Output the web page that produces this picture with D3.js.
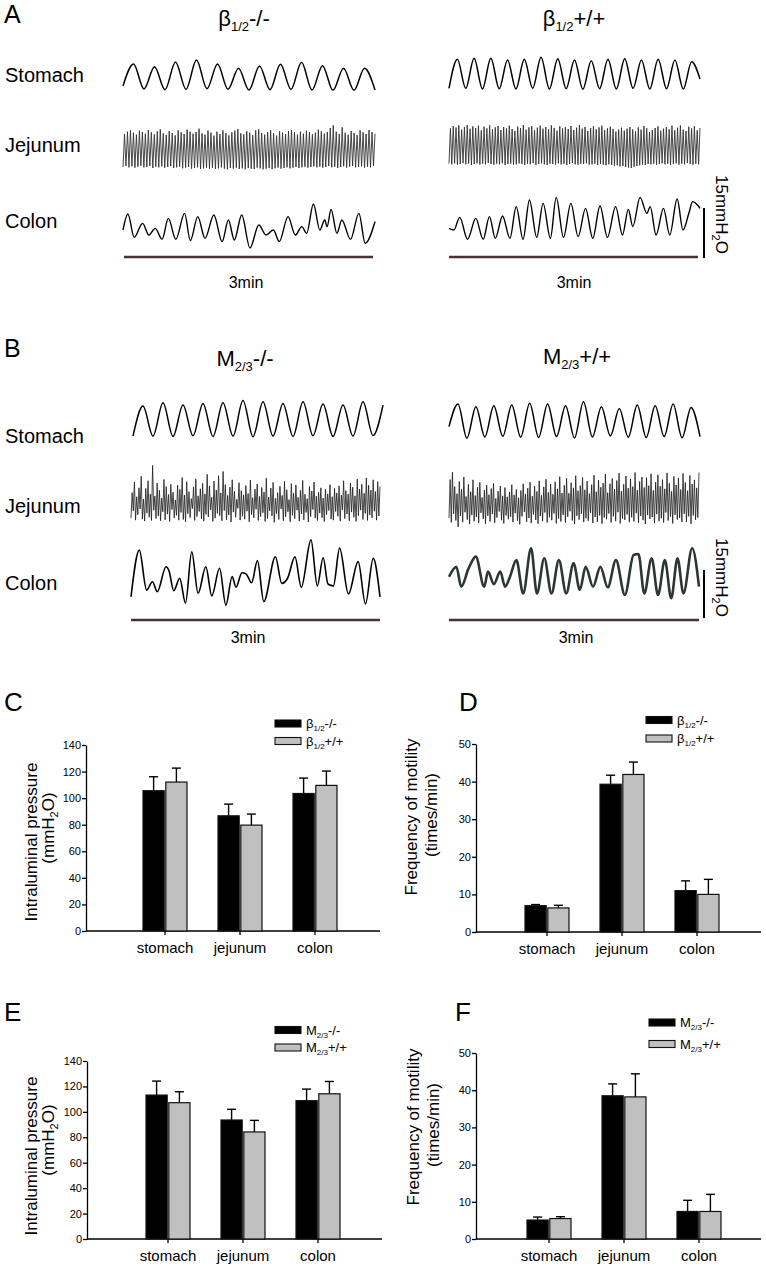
<!DOCTYPE html>
<html><head><meta charset="utf-8">
<script src="https://cdn.jsdelivr.net/npm/d3@7"></script>
<style>body{margin:0;background:#fff}svg{font-family:Arial,"Liberation Sans",sans-serif;display:block}</style>
</head><body>
<svg id="c" width="766" height="1271"></svg>
<script>
// ---------------- DATA ----------------
const organLabels = ["Stomach", "Jejunum", "Colon"];
const barCategories = ["stomach", "jejunum", "colon"];
const pressureTicks = [0, 20, 40, 60, 80, 100, 120, 140];
const freqTicks = [0, 10, 20, 30, 40, 50];
const timeLabel = "3min";
const scaleBarValue = 15; // mmH2O
const recordMinutes = 3;

// Bar data (mean, SEM)
const cKO = [105.6, 86.7, 103.5], cKOerr = [10.5, 8.8, 11.6];
const cWT = [112.1, 79.7, 109.6], cWTerr = [10.5, 8.3, 10.8];
const dKO = [7.0, 39.3, 11.0], dKOerr = [0.3, 2.4, 2.6];
const dWT = [6.4, 41.9, 10.0], dWTerr = [0.7, 3.3, 4.0];
const eKO = [113.2, 93.6, 108.8], eKOerr = [11.0, 8.4, 9.1];
const eWT = [107.2, 84.2, 114.2], eWTerr = [8.6, 9.1, 9.7];
const fKO = [5.1, 38.5, 7.4], fKOerr = [0.8, 3.2, 3.0];
const fWT = [5.5, 38.2, 7.4], fWTerr = [0.5, 6.2, 4.6];

// Trace data (mmH2O above each trace floor); stomach = successive extrema
const aStomachKO = [1.5, 8.1, 0.6, 7.3, 0.4, 8.7, 0.5, 9.3, 0.7, 8.1, 0.5, 6.8, 0.3, 7.5, 0.4, 8.0, 0.5, 8.6, 0.3, 7.6, 0.2, 6.8, 0.2, 6.8, 0.3];
const aStomachWT = [0.8, 9.5, 0.8, 9.8, 0.6, 9.8, 0.7, 9.3, 0.6, 9.5, 0.8, 10.1, 0.6, 9.7, 0.7, 9.3, 0.5, 9.1, 0.7, 9.5, 0.6, 9.7, 0.8, 9.3, 0.6, 9.5, 0.7, 9.3, 0.6, 8.8, 3.6];
const bStomachKO = [0.6, 10.0, 0.6, 11.0, 0.5, 10.3, 0.7, 10.8, 0.5, 11.0, 0.6, 11.7, 0.4, 11.3, 0.6, 10.8, 0.5, 11.3, 0.7, 10.6, 0.5, 10.3, 0.6, 11.3, 0.8, 10.3];
const bStomachWT = [4.8, 11.9, 1.2, 11.0, 1.6, 11.3, 1.8, 11.6, 1.5, 12.1, 1.4, 11.9, 1.7, 11.3, 1.3, 12.6, 1.6, 11.0, 1.9, 10.5, 1.5, 11.6, 1.4, 11.3, 1.7, 11.9, 1.3, 10.8, 1.7];

// Jejunum: peak and trough values of each contraction
const aJejKOpk = [10.8, 11.5, 11.9, 11.2, 10.6, 11.8, 11.4, 10.9, 12.0, 11.3, 10.7, 11.6, 12.2, 11.0, 10.5, 11.7, 11.1, 10.4, 11.9, 11.3, 10.8, 12.1, 11.5, 10.9, 11.4, 12.4, 11.0, 10.6, 11.8, 11.2, 10.3, 11.5, 10.8, 11.9, 11.1, 10.4, 11.3, 11.8, 12.3, 11.0, 10.7, 11.6, 11.2, 10.5, 11.9, 12.2, 11.1, 10.6, 11.4, 11.9, 11.0, 10.3, 11.6, 11.2, 10.8, 11.7, 12.0, 11.3, 10.6, 11.5, 10.9, 11.8, 11.4, 10.7, 11.2, 12.1, 11.6, 10.9, 11.4, 12.6, 13.4, 11.5, 10.8, 12.8, 11.2, 10.6, 11.7, 11.1, 10.5, 11.9, 11.3, 10.8, 12.0, 11.4, 10.9];
const aJejKOtr = [0.9, 1.2, 0.8, 1.1, 0.7, 1.0, 1.3, 0.8, 0.9, 1.2, 0.6, 1.0, 0.8, 1.1, 0.7, 0.9, 1.2, 0.6, 0.8, 1.0, 0.5, 0.7, 0.9, 0.4, 0.6, 0.8, 0.3, 0.5, 0.7, 0.4, 0.6, 0.3, 0.5, 0.8, 0.4, 0.2, 0.6, 0.4, 0.7, 0.3, 0.5, 0.2, 0.6, 0.4, 0.3, 0.7, 0.5, 0.2, 0.4, 0.6, 0.3, 0.5, 0.7, 0.4, 0.6, 0.8, 0.5, 0.7, 0.9, 0.6, 0.8, 1.0, 0.7, 0.9, 1.1, 0.8, 1.0, 0.7, 0.9, 1.2, 0.8, 1.0, 0.6, 0.9, 1.1, 0.7, 1.0, 1.2, 0.8, 0.9, 1.1, 0.7, 1.0, 0.8, 1.2];
const aJejWTpk = [11.6, 12.3, 11.8, 12.5, 11.2, 12.0, 12.6, 11.5, 12.2, 11.7, 12.4, 11.0, 12.1, 11.6, 12.5, 11.3, 11.9, 12.3, 11.1, 12.0, 11.6, 12.4, 11.4, 10.8, 12.1, 11.7, 12.6, 11.2, 11.9, 12.3, 11.0, 11.8, 12.4, 11.5, 12.0, 11.3, 12.5, 11.7, 10.9, 12.2, 11.6, 12.0, 11.4, 12.3, 11.1, 11.8, 12.6, 11.5, 12.0, 10.8, 11.7, 12.2, 11.3, 11.9, 12.4, 11.0, 11.6, 12.1, 11.4, 10.6, 11.2, 11.8, 10.9, 11.5, 12.0, 11.3, 10.7, 11.9, 11.2, 12.3, 11.6, 10.5, 11.1, 11.7, 12.2, 10.9, 11.5, 12.0, 11.3, 12.4, 11.0, 11.8, 12.5, 11.2, 10.8, 12.1, 11.6, 12.3, 11.0, 11.7];
const aJejWTtr = [1.0, 0.8, 1.1, 0.7, 0.9, 1.2, 0.8, 1.0, 0.6, 0.9, 1.1, 0.7, 1.0, 0.8, 1.2, 0.9, 0.7, 1.0, 0.8, 1.1, 0.6, 0.9, 1.0, 0.7, 0.8, 1.1, 0.9, 0.6, 1.0, 0.8, 1.2, 0.7, 0.9, 1.1, 0.8, 0.6, 1.0, 0.9, 0.7, 1.1, 0.8, 1.0, 0.6, 0.9, 1.2, 0.8, 0.7, 1.0, 0.9, 1.1, 0.7, 0.8, 1.0, 0.6, 0.9, 0.7, 0.5, 0.8, 0.6, 0.4, 0.5, 0.2, 0.3, 0.0, -0.2, -0.3, 0.1, 0.3, 0.5, 0.7, 0.6, 0.9, 0.8, 1.0, 0.7, 0.9, 1.1, 0.8, 1.0, 0.6, 0.9, 1.1, 0.7, 1.0, 0.8, 1.2, 0.9, 0.7, 1.0, 0.8];
const bJejKOpk = [9.5, 12.8, 8.2, 11.0, 14.6, 7.5, 10.8, 13.2, 9.0, 18.0, 8.4, 12.5, 10.2, 7.8, 13.6, 11.4, 8.9, 12.1, 9.6, 7.2, 11.8, 10.5, 14.2, 8.7, 12.9, 9.8, 7.6, 11.3, 13.8, 8.5, 10.7, 12.4, 9.1, 15.2, 11.6, 8.0, 13.1, 10.3, 14.8, 9.4, 16.1, 12.0, 8.6, 11.2, 13.5, 9.9, 7.4, 12.6, 10.1, 8.8, 11.7, 9.2, 13.4, 7.9, 10.6, 12.2, 8.3, 11.1, 9.7, 14.0, 8.1, 10.9, 12.7, 7.7, 9.5, 11.5, 8.6, 13.0, 10.4, 7.3, 12.3, 9.3, 11.9, 8.0, 10.2, 13.3, 9.0, 7.6, 11.4, 10.0, 12.8, 8.4, 9.6, 11.0, 7.8, 10.5, 9.1, 12.0, 8.2, 10.8, 9.4, 11.6, 8.7, 13.2, 10.1, 9.0, 12.5, 11.2, 8.5, 13.7, 10.6, 12.1, 9.3, 14.1, 11.8, 10.3, 13.5, 9.8, 12.9, 11.4];
const bJejKOtr = [1.5, 3.8, 0.9, 2.6, 4.4, 1.2, 0.6, 3.1, 1.8, 0.8, 4.0, 1.4, 2.2, 0.7, 3.5, 1.0, 2.8, 0.5, 4.2, 1.6, 2.4, 0.9, 3.3, 1.1, 0.4, 2.9, 1.7, 4.5, 0.8, 2.0, 3.6, 1.3, 0.6, 2.7, 1.9, 4.1, 0.5, 1.5, 3.0, 2.3, 0.7, 3.9, 1.0, 2.5, 0.3, 3.4, 1.8, 4.6, 0.9, 2.1, 1.2, 3.7, 0.4, 2.6, 1.6, 4.3, 0.8, 2.0, 3.2, 0.5, 1.4, 3.8, 2.2, 0.2, 2.9, 1.1, 4.4, 0.7, 1.9, 3.5, 0.4, 2.4, 1.3, 4.0, 0.6, 2.8, 1.0, 3.3, 0.3, 2.0, 4.2, 1.5, 0.8, 3.1, 1.7, 0.5, 2.6, 3.9, 1.2, 0.9, 3.6, 2.1, 0.6, 4.1, 1.4, 2.8, 0.7, 3.4, 1.8, 0.5, 2.3, 4.0, 1.1, 3.0, 0.8, 2.5, 1.6, 3.7, 0.9, 2.2];
const bJejWTpk = [14.2, 16.5, 12.0, 9.8, 13.6, 11.2, 15.0, 8.9, 12.7, 10.4, 14.1, 9.2, 11.8, 13.3, 8.6, 10.9, 12.5, 9.5, 11.4, 13.0, 8.3, 10.6, 12.2, 9.1, 11.7, 8.8, 10.3, 12.6, 9.4, 11.1, 8.5, 10.8, 12.9, 9.7, 11.5, 13.4, 9.0, 12.1, 10.5, 13.8, 9.3, 11.9, 14.3, 10.2, 12.8, 9.6, 13.5, 11.3, 15.1, 10.0, 12.4, 14.6, 9.9, 13.2, 11.6, 15.4, 10.7, 12.3, 14.9, 11.0, 13.7, 9.8, 12.6, 15.6, 10.4, 14.0, 11.8, 13.1, 15.9, 10.1, 12.9, 14.5, 11.2, 13.9, 16.2, 10.6, 12.7, 15.3, 11.5, 14.4, 12.0, 16.4, 10.9, 13.6, 15.0, 11.7, 14.8, 12.3, 16.0, 10.8, 13.4, 15.7, 12.1, 14.2, 11.3, 16.3, 13.0, 10.5, 15.2, 12.5, 14.7, 11.1, 16.1, 13.3, 10.7, 15.5, 12.8, 14.1, 11.6, 16.4];
const bJejWTtr = [2.2, 0.8, 3.5, 1.4, -0.6, 2.8, 0.9, 4.0, 1.7, 0.3, 3.1, 1.2, 2.5, 0.6, 3.8, 1.9, 0.4, 2.9, 1.1, 3.4, 0.7, 2.3, 4.2, 1.5, 0.5, 3.0, 1.8, 2.6, 0.9, 3.7, 1.3, 0.2, 2.7, 4.1, 1.0, 2.2, 0.6, 3.3, 1.6, 0.4, 2.8, 1.2, 3.9, 0.8, 2.4, 1.5, 3.6, 0.5, 2.0, 1.1, 3.2, 0.7, 2.6, 4.3, 1.4, 0.3, 2.9, 1.7, 3.5, 0.9, 2.1, 1.3, 3.8, 0.6, 2.5, 1.0, 3.0, 0.4, 2.3, 1.8, 3.6, 0.8, 2.7, 1.2, 4.0, 0.5, 2.0, 1.6, 3.3, 0.9, 2.4, 1.1, 3.7, 0.7, 2.8, 1.5, 0.3, 3.1, 1.9, 2.5, 0.6, 3.4, 1.2, 2.1, 0.8, 3.9, 1.4, 2.6, 0.5, 3.2, 1.7, 2.2, 0.9, 3.5, 1.0, 2.7, 0.4, 3.0, 1.6, 2.3];

// Colon: time (s) and pressure (mmH2O) of successive turning points
const aColonKOt = [0, 3.5, 8.0, 14.0, 18.5, 23.0, 27.9, 32.4, 37.7, 44.0, 48.1, 53.4, 58.6, 64.9, 70.8, 75.3, 79.5, 84.8, 90.7, 97.0, 102.2, 107.4, 111.6, 117.9, 123.1, 127.7, 131.2, 136.0, 140.6, 144.1, 145.8, 148.6, 152.8, 156.3, 162.5, 168.5, 173.0, 180];
const aColonKOv = [5.4, 10.2, 3.2, 7.4, 3.9, 5.9, 2.6, 8.9, 2.6, 10.4, 2.2, 9.4, 2.9, 9.9, 1.9, 8.4, 2.4, 9.9, 0, 6.9, 3.9, 5.4, 1.9, 9.4, 3.9, 6.4, 4.4, 13.2, 5.4, 8.4, 6.4, 11.6, 4.4, 8.4, 2.6, 10.4, 1.4, 7.9];
const aColonWTt = [0, 3.5, 7.7, 13.3, 19.2, 24.5, 29.0, 33.2, 38.4, 43.7, 48.2, 53.1, 57.7, 62.9, 67.5, 72.7, 76.9, 82.1, 87.4, 92.6, 97.9, 103.1, 108.3, 113.6, 119.5, 124.4, 128.6, 131.8, 137.0, 141.9, 144.3, 148.5, 153.8, 158.3, 163.6, 167.8, 172.0, 174.7, 178.2, 180];
const aColonWTv = [4.1, 3.6, 7.4, 0.8, 7.1, 0.8, 7.6, 1.1, 7.8, 1.1, 10.6, 0.8, 12.6, 1.4, 11.6, 1.1, 13.4, 1.4, 11.6, 1.6, 10.1, 1.1, 10.8, 1.4, 10.6, 2.1, 9.8, 4.6, 13.4, 8.6, 10.6, 2.1, 10.1, 2.1, 12.9, 3.6, 8.6, 12.1, 11.1, 10.1];
const bColonKOt = [0, 6.0, 11.3, 15.5, 19.0, 25.3, 27.4, 30.9, 35.2, 39.4, 43.9, 48.5, 54.1, 58.4, 64.0, 68.6, 73.1, 75.9, 80.2, 83.3, 87.2, 91.4, 96.0, 104.4, 109.0, 113.2, 118.5, 123.1, 130.1, 134.7, 138.9, 142.4, 146.3, 150.8, 157.2, 164.2, 169.5, 175.1, 180];
const bColonKOv = [3.5, 18.1, 5.6, 8.2, 5.1, 12.9, 11.7, 5.4, 9.3, 1.5, 17.6, 4.6, 12.9, 3.8, 12.4, 0.9, 9.8, 6.5, 11.0, 10.6, 7.9, 14.8, 2.0, 16.0, 7.7, 9.3, 16.0, 6.5, 21.3, 6.9, 15.8, 7.5, 6.9, 18.7, 4.4, 14.5, 1.3, 15.5, 3.5];
const bColonWTt = [0, 5.3, 8.8, 14.1, 19.3, 25.3, 28.1, 32.3, 36.9, 40.4, 43.9, 48.5, 53.4, 59.1, 63.3, 68.6, 73.8, 79.1, 84.4, 89.7, 94.2, 98.4, 103.7, 109.0, 114.3, 120.2, 126.6, 132.9, 136.4, 140.6, 145.9, 150.5, 155.4, 160.0, 164.5, 168.8, 175.1, 180];
const bColonWTv = [8.2, 11.3, 5.1, 10.8, 14.5, 5.1, 9.8, 5.9, 9.8, 5.1, 8.2, 13.4, 3.0, 17.1, 3.0, 14.0, 3.0, 13.4, 3.0, 12.4, 4.1, 11.3, 5.1, 11.3, 4.9, 13.4, 2.5, 15.0, 15.3, 3.0, 14.0, 2.5, 13.4, 1.5, 14.0, 3.0, 17.1, 5.1];

// ---------------- DRAWING ----------------
const svg = d3.select("#c");

function rich(parent, x, y, parts, anchor, transform) {
  const t = parent.append("text").attr("x", x).attr("y", y)
    .attr("text-anchor", anchor || "start").attr("fill", "#000");
  if (transform) t.attr("transform", transform);
  parts.forEach(p => t.append("tspan").attr("font-size", p.s).attr("dy", p.dy || 0).text(p.t));
  return t;
}
function geno(sym, sub, gen, big, small, shift) {
  return [{t: sym, s: big}, {t: sub, s: small, dy: shift}, {t: gen, s: big, dy: -shift}];
}
function label(x, y, str, size, anchor) {
  return svg.append("text").attr("x", x).attr("y", y).attr("font-size", size)
    .attr("text-anchor", anchor || "start").text(str);
}

function interleave(tr, pk) {
  const s = [];
  const n = Math.max(tr.length, pk.length);
  for (let i = 0; i < n; i++) { if (i < tr.length) s.push(tr[i]); if (i < pk.length) s.push(pk[i]); }
  return s;
}
function drawSeq(vals, x0, x1, base, pxPerUnit, curve, stroke, width) {
  const x = d3.scaleLinear().domain([0, vals.length - 1]).range([x0, x1]);
  const y = d3.scaleLinear().domain([0, scaleBarValue]).range([base, base - scaleBarValue * pxPerUnit]);
  svg.append("path").attr("d", d3.line().x((d, i) => x(i)).y(d => y(d)).curve(curve)(vals))
    .attr("fill", "none").attr("stroke", stroke).attr("stroke-width", width).attr("stroke-linejoin", "round");
}
function drawTimed(ts, vs, x0, x1, base, pxPerUnit, stroke, width) {
  const x = d3.scaleLinear().domain([0, recordMinutes * 60]).range([x0, x1]);
  const y = d3.scaleLinear().domain([0, scaleBarValue]).range([base, base - scaleBarValue * pxPerUnit]);
  const pts = ts.map((t, i) => [t, vs[i]]);
  svg.append("path").attr("d", d3.line().x(d => x(d[0])).y(d => y(d[1])).curve(d3.curveMonotoneX)(pts))
    .attr("fill", "none").attr("stroke", stroke).attr("stroke-width", width).attr("stroke-linejoin", "round");
}

// ----- Panel A -----
label(4, 23, "A", 25);
rich(svg, 244, 26, geno("β", "1/2", "-/-", 22, 13, 5), "middle");
rich(svg, 574, 26, geno("β", "1/2", "+/+", 22, 13, 5), "middle");
label(5, 82, organLabels[0], 20); label(5, 152, organLabels[1], 20); label(5, 228, organLabels[2], 20);
const pxA = 50 / 15;
drawSeq(aStomachKO, 123, 375, 91, pxA, d3.curveMonotoneX, "#000", 1.5);
drawSeq(aStomachWT, 449, 700, 91, pxA, d3.curveMonotoneX, "#000", 1.5);
drawSeq(interleave(aJejKOtr, aJejKOpk), 123, 375, 170, pxA, d3.curveLinear, "#333", 0.9);
drawSeq(interleave(aJejWTtr, aJejWTpk), 449, 700, 167, pxA, d3.curveLinear, "#333", 0.9);
drawTimed(aColonKOt, aColonKOv, 123, 375, 248, pxA, "#000", 1.4);
drawTimed(aColonWTt, aColonWTv, 449, 700, 242, pxA, "#000", 1.4);

function timeBar(x0, x1, y) {
  const x = d3.scaleLinear().domain([0, recordMinutes]).range([x0, x1]);
  svg.append("line").attr("x1", x(0)).attr("x2", x(recordMinutes)).attr("y1", y).attr("y2", y)
    .attr("stroke", "#4a3232").attr("stroke-width", 2.5);
}
timeBar(124, 373, 257); timeBar(449, 698, 257);
label(246, 288, timeLabel, 16, "middle"); label(574, 288, timeLabel, 16, "middle");
function scaleBar(x, y0, y1, tx, ty) {
  svg.append("line").attr("x1", x).attr("x2", x).attr("y1", y0).attr("y2", y1).attr("stroke", "#000").attr("stroke-width", 2);
  rich(svg, 0, 0, [{t: scaleBarValue + "mmH", s: 17}, {t: "2", s: 11, dy: 4}, {t: "O", s: 17, dy: -4}], "start",
    `translate(${tx},${ty}) rotate(90)`);
}
scaleBar(704, 208, 258, 716, 175);

// ----- Panel B -----
label(4, 357, "B", 25);
rich(svg, 245, 366, geno("M", "2/3", "-/-", 22, 13, 5), "middle");
rich(svg, 577, 364, geno("M", "2/3", "+/+", 22, 13, 5), "middle");
label(5, 443, organLabels[0], 20); label(5, 513, organLabels[1], 20); label(5, 590, organLabels[2], 20);
const pxB = 48 / 15;
drawSeq(bStomachKO, 133, 383, 438, pxB, d3.curveMonotoneX, "#000", 1.5);
drawSeq(bStomachWT, 449, 700, 442, pxB, d3.curveMonotoneX, "#000", 1.5);
drawSeq(interleave(bJejKOtr, bJejKOpk), 131, 380, 523, pxB, d3.curveLinear, "#1a1a1a", 0.8);
drawSeq(interleave(bJejWTtr, bJejWTpk), 449, 699, 525, pxB, d3.curveLinear, "#1a1a1a", 0.8);
drawTimed(bColonKOt, bColonKOv, 131, 380, 608, pxB, "#000", 1.6);
drawTimed(bColonWTt, bColonWTv, 449, 699, 603, pxB, "#2c3632", 2.6);
timeBar(131, 380, 620); timeBar(449, 699, 620);
label(248, 643, timeLabel, 16, "middle"); label(576, 643, timeLabel, 16, "middle");
scaleBar(704, 570, 618, 716, 538);

// ----- Bar panels -----
function barPanel(cfg) {
  const g = svg.append("g");
  const y = d3.scaleLinear().domain([0, cfg.max]).range([cfg.y0, cfg.yTop]);
  const x = d3.scaleBand().domain(barCategories).range([cfg.c0 - 37.5, cfg.c0 + 187.5]);
  const xs = d3.scaleBand().domain(["ko", "wt"]).range([-22, 22]).paddingInner(0.07);
  // y axis
  const ya = g.append("g").attr("transform", `translate(${cfg.ax},0)`)
    .call(d3.axisLeft(y).tickValues(cfg.ticks).tickSize(4).tickSizeOuter(0).tickPadding(1));
  ya.selectAll("text").attr("font-size", 11).attr("font-family", "Arial, 'Liberation Sans', sans-serif").attr("fill", "#000");
  ya.selectAll("line,path").attr("stroke", "#000").attr("stroke-width", 1.3);
  // x axis
  g.append("line").attr("x1", cfg.ax).attr("x2", cfg.xEnd).attr("y1", cfg.y0).attr("y2", cfg.y0)
    .attr("stroke", "#000").attr("stroke-width", 1.5);
  const xa = g.append("g").attr("transform", `translate(0,${cfg.y0})`)
    .call(d3.axisBottom(x).tickSize(4).tickSizeOuter(0).tickPadding(7));
  xa.select(".domain").remove();
  xa.selectAll("line").attr("stroke", "#000").attr("stroke-width", 1.3);
  xa.selectAll("text").attr("font-size", 15).attr("font-family", "Arial, 'Liberation Sans', sans-serif").attr("fill", "#000");
  // bars + error bars
  const series = [
    {key: "ko", vals: cfg.ko, errs: cfg.koErr, fill: "#000"},
    {key: "wt", vals: cfg.wt, errs: cfg.wtErr, fill: "#c0c0c0"}
  ];
  series.forEach(s => {
    barCategories.forEach((cat, i) => {
      const cx = x(cat) + x.bandwidth() / 2 + xs(s.key);
      const w = xs.bandwidth();
      const mid = cx + w / 2;
      g.append("line").attr("x1", mid).attr("x2", mid).attr("y1", y(s.vals[i])).attr("y2", y(s.vals[i] + s.errs[i]))
        .attr("stroke", "#000").attr("stroke-width", 1.4);
      g.append("line").attr("x1", mid - 4.5).attr("x2", mid + 4.5).attr("y1", y(s.vals[i] + s.errs[i])).attr("y2", y(s.vals[i] + s.errs[i]))
        .attr("stroke", "#000").attr("stroke-width", 1.4);
      g.append("rect").attr("x", cx).attr("width", w).attr("y", y(s.vals[i])).attr("height", y(0) - y(s.vals[i]))
        .attr("fill", s.fill).attr("stroke", "#111").attr("stroke-width", 1.2);
    });
  });
  // legend
  const lg = cfg.legend;
  [["#000", lg.ko], ["#c0c0c0", lg.wt]].forEach((d, i) => {
    const ly = lg.y[i];
    g.append("rect").attr("x", lg.x).attr("y", ly).attr("width", 26).attr("height", 7)
      .attr("fill", d[0]).attr("stroke", "#111").attr("stroke-width", 1.1);
    rich(g, lg.x + 31, ly + 8, geno(lg.sym, lg.sub, d[1], 13, 8, 3), "start");
  });
  // y label
  rich(g, 0, 0, [{t: cfg.ylab1, s: 17}], "middle", `translate(${cfg.lx1},${cfg.ly1}) rotate(-90)`);
  rich(g, 0, 0, cfg.ylab2, "middle", `translate(${cfg.lx2},${cfg.ly2}) rotate(-90)`);
  label(cfg.letterX, cfg.letterY, cfg.letter, 26);
}

const pressLab2 = [{t: "(mmH", s: 17}, {t: "2", s: 11, dy: 4}, {t: "O)", s: 17, dy: -4}];
const freqLab2 = [{t: "(times/min)", s: 17}];

barPanel({letter: "C", letterX: 4, letterY: 711, ax: 86, xEnd: 380, y0: 931, yTop: 745, max: 140, ticks: pressureTicks, c0: 165,
  ko: cKO, koErr: cKOerr, wt: cWT, wtErr: cWTerr,
  legend: {x: 275, y: [720, 737.5], sym: "β", sub: "1/2", ko: "-/-", wt: "+/+"},
  ylab1: "Intraluminal pressure", ylab2: pressLab2, lx1: 37, ly1: 842, lx2: 54, ly2: 828});
barPanel({letter: "D", letterX: 459, letterY: 711, ax: 476, xEnd: 761, y0: 932, yTop: 744, max: 50, ticks: freqTicks, c0: 547,
  ko: dKO, koErr: dKOerr, wt: dWT, wtErr: dWTerr,
  legend: {x: 646, y: [716.5, 735], sym: "β", sub: "1/2", ko: "-/-", wt: "+/+"},
  ylab1: "Frequency of motility", ylab2: freqLab2, lx1: 417, ly1: 817, lx2: 437, ly2: 815});
barPanel({letter: "E", letterX: 4, letterY: 1021, ax: 87, xEnd: 382, y0: 1239, yTop: 1061, max: 140, ticks: pressureTicks, c0: 168,
  ko: eKO, koErr: eKOerr, wt: eWT, wtErr: eWTerr,
  legend: {x: 275, y: [1026.5, 1044], sym: "M", sub: "2/3", ko: "-/-", wt: "+/+"},
  ylab1: "Intraluminal pressure", ylab2: pressLab2, lx1: 37, ly1: 1156, lx2: 54, ly2: 1140});
barPanel({letter: "F", letterX: 455, letterY: 1021, ax: 476, xEnd: 761, y0: 1239, yTop: 1053, max: 50, ticks: freqTicks, c0: 549,
  ko: fKO, koErr: fKOerr, wt: fWT, wtErr: fWTerr,
  legend: {x: 649, y: [1019, 1040.5], sym: "M", sub: "2/3", ko: "-/-", wt: "+/+"},
  ylab1: "Frequency of motility", ylab2: freqLab2, lx1: 419, ly1: 1127, lx2: 439, ly2: 1125});
</script>
</body></html>
